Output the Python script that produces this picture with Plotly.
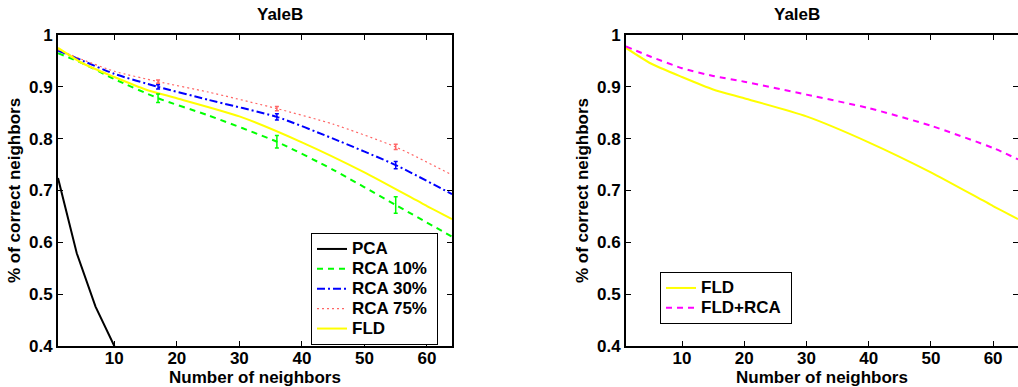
import plotly.graph_objects as go

# ---- data ----
pca_x = [1, 4, 7, 10, 13, 16]
pca_y = [0.724, 0.579, 0.476, 0.400, 0.340, 0.290]

rca_x = [1, 5, 10, 17, 25, 36, 45, 55, 64]
rca10_y = [0.965, 0.945, 0.915, 0.878, 0.845, 0.794, 0.740, 0.672, 0.611]
rca30_y = [0.970, 0.950, 0.925, 0.900, 0.875, 0.842, 0.800, 0.749, 0.693]
rca75_y = [0.972, 0.952, 0.930, 0.910, 0.890, 0.858, 0.828, 0.784, 0.730]

err_x = [17, 36, 55]
rca10_err_y = [0.878, 0.794, 0.672]
rca10_err = [0.008, 0.012, 0.016]
rca30_err_y = [0.900, 0.842, 0.749]
rca30_err = [0.004, 0.006, 0.007]
rca75_err_y = [0.910, 0.858, 0.784]
rca75_err = [0.003, 0.004, 0.005]

fld_x = [1, 5, 10, 15, 20, 30, 40, 50, 60, 64]
fld_y = [0.975, 0.945, 0.919, 0.895, 0.878, 0.843, 0.793, 0.735, 0.670, 0.645]
fldrca_y = [0.978, 0.958, 0.936, 0.921, 0.910, 0.885, 0.859, 0.825, 0.782, 0.760]

x_ticks = [10, 20, 30, 40, 50, 60]
y_ticks = [0.4, 0.5, 0.6, 0.7, 0.8, 0.9, 1.0]
y_tick_text = ["0.4", "0.5", "0.6", "0.7", "0.8", "0.9", "1"]

W, H = 1018, 387
FONT = "Liberation Sans, Arial, Helvetica, sans-serif"
FS = 17

fig = go.Figure()

def big(name):
    return f'<span style="font-size:{FS}px">{name}&nbsp;</span>'

def line(x, y, name, color, dash, width, xa, ya, legend, shape="spline"):
    fig.add_trace(go.Scatter(
        x=x, y=y, name=big(name), mode="lines",
        line=dict(color=color, dash=dash, width=width, shape=shape,
                  smoothing=0.6 if shape == "spline" else None),
        xaxis=xa, yaxis=ya, legend=legend))

def errs(x, y, e, color, xa, ya):
    fig.add_trace(go.Scatter(
        x=x, y=y, mode="markers", marker=dict(size=4, color=color, opacity=0),
        error_y=dict(type="data", array=e, color=color, thickness=1.5, width=2),
        xaxis=xa, yaxis=ya, showlegend=False, hoverinfo="skip"))

# left panel
line(pca_x, pca_y, "PCA", "black", "solid", 2, "x", "y", "legend", shape="linear")
line(rca_x, rca10_y, "RCA 10%", "#00ff00", "6px,5px", 2, "x", "y", "legend")
line(rca_x, rca30_y, "RCA 30%", "#0000ff", "8px,3px,2px,3px", 2, "x", "y", "legend")
line(rca_x, rca75_y, "RCA 75%", "#ff6666", "2px,3px", 1.2, "x", "y", "legend")
line(fld_x, fld_y, "FLD", "#ffff00", "solid", 2, "x", "y", "legend")
errs(err_x, rca10_err_y, rca10_err, "#00ff00", "x", "y")
errs(err_x, rca30_err_y, rca30_err, "#0000ff", "x", "y")
errs(err_x, rca75_err_y, rca75_err, "#ff6666", "x", "y")

# right panel
line(fld_x, fld_y, "FLD", "#ffff00", "solid", 2, "x2", "y2", "legend2")
line(fld_x, fldrca_y, "FLD+RCA", "#ff00ff", "6px,5px", 2, "x2", "y2", "legend2")

ydom = [1 - 346 / H, 1 - 35 / H]
bold = dict(family=FONT, size=FS, color="black", weight="bold")
axis_common = dict(
    showline=True, linecolor="black", linewidth=2, mirror="ticks",
    ticks="inside", ticklen=5, tickwidth=1, tickcolor="black",
    showgrid=False, zeroline=False, tickfont=bold, automargin=False,
)
xaxis_common = dict(axis_common, range=[1, 64], tickvals=x_ticks, ticklabelstandoff=-4,
                    title=dict(text="Number of neighbors", standoff=0, font=bold))
yaxis_common = dict(axis_common, range=[0.4, 1.0], tickvals=y_ticks, ticktext=y_tick_text,
                    title=dict(text="% of correct neighbors", standoff=4, font=bold))

legend_common = dict(
    bgcolor="white", bordercolor="black", borderwidth=1,
    font=dict(family=FONT, size=13, color="black", weight="bold"),
    xanchor="left", yanchor="top", itemwidth=30, tracegroupgap=0,
)

fig.update_layout(
    width=W, height=H,
    margin=dict(l=0, r=0, t=0, b=0, autoexpand=False),
    paper_bgcolor="white", plot_bgcolor="white",
    xaxis=dict(xaxis_common, domain=[58 / W, 452 / W], anchor="y"),
    yaxis=dict(yaxis_common, domain=ydom, anchor="x"),
    xaxis2=dict(xaxis_common, domain=[626 / W, 1.0], anchor="y2"),
    yaxis2=dict(yaxis_common, domain=ydom, anchor="x2"),
    legend=dict(legend_common, x=311 / W, y=1 - 233 / H),
    legend2=dict(legend_common, x=660 / W, y=1 - 272 / H),
    annotations=[
        dict(text="YaleB", x=(58 + 452) / 2 / W, y=1 - 15 / H, xref="paper", yref="paper",
             yanchor="middle", showarrow=False, font=bold),
        dict(text="YaleB", x=(626 + 1018) / 2 / W, y=1 - 15 / H, xref="paper", yref="paper",
             yanchor="middle", showarrow=False, font=bold),
    ],
)

fig.write_html("out.html", config={"displayModeBar": False},
               post_script="document.body.style.margin='0';")
